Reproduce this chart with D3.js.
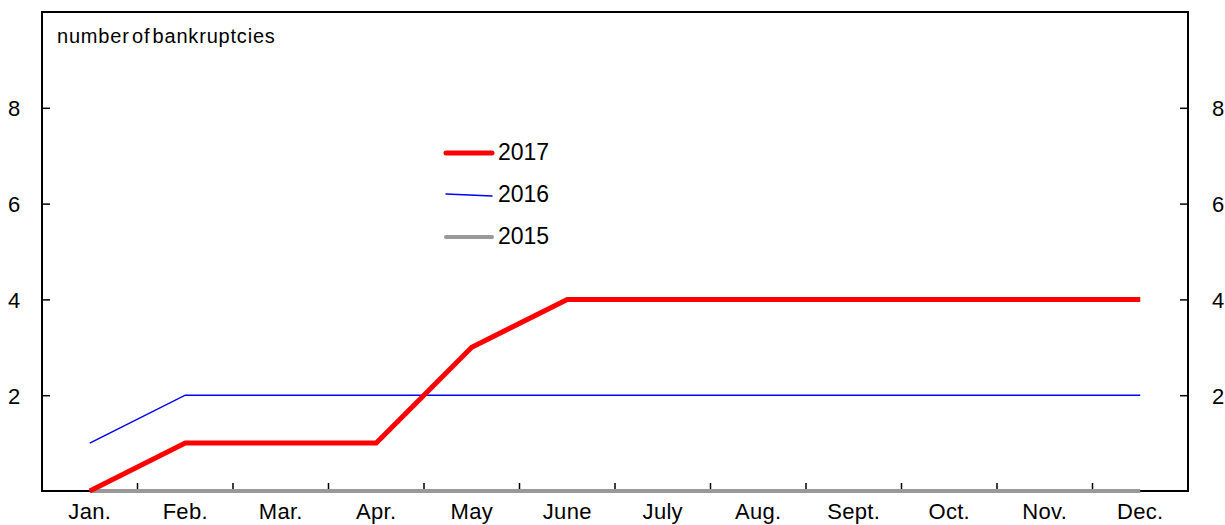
<!DOCTYPE html>
<html lang="en">
<head>
  <meta charset="utf-8">
  <title>Number of bankruptcies</title>
  <style>
  body { margin: 0; background: #fff; }
  text { font-family: Arial, "Liberation Sans", sans-serif; fill: #000; }
  </style>
  <script src="https://cdn.jsdelivr.net/npm/d3@7"></script>
</head>
<body>
  <svg width="1225" height="525"></svg>
  <script>
  var months = ["Jan.", "Feb.", "Mar.", "Apr.", "May", "June", "July", "Aug.", "Sept.", "Oct.", "Nov.", "Dec."];
  var y2017 = [0, 1, 1, 1, 3, 4, 4, 4, 4, 4, 4, 4];
  var y2016 = [1, 2, 2, 2, 2, 2, 2, 2, 2, 2, 2, 2];
  var y2015 = [0, 0, 0, 0, 0, 0, 0, 0, 0, 0, 0, 0];
  var yTicks = [2, 4, 6, 8];

  var series = [
    {name: "2015", values: y2015, color: "#999999", width: 4},
    {name: "2016", values: y2016, color: "#0000ff", width: 1.5},
    {name: "2017", values: y2017, color: "#ff0000", width: 5}
  ];

  var svg = d3.select("svg"),
      margin = {top: 12, right: 37, bottom: 34, left: 42},
      width = +svg.attr("width") - margin.left - margin.right,
      height = +svg.attr("height") - margin.top - margin.bottom,
      g = svg.append("g").attr("transform", "translate(" + margin.left + "," + margin.top + ")");

  var x = d3.scaleBand().domain(months).range([0, width]);
  var y = d3.scaleLinear().domain([0, 10]).range([height, 0]);

  // frame
  g.append("rect")
      .attr("width", width)
      .attr("height", height)
      .attr("fill", "none")
      .attr("stroke", "#000")
      .attr("stroke-width", 2);

  // left / right axes, ticks pointing inward
  var left = g.append("g").call(d3.axisRight(y).tickValues(yTicks).tickSize(8));
  left.select(".domain").remove();
  left.selectAll("line").attr("stroke", "#000").attr("stroke-width", 1.5);
  left.selectAll("text").style("font-size", "22px").attr("text-anchor", "middle").attr("x", -28).attr("dy", "0.36em");

  var right = g.append("g").attr("transform", "translate(" + width + ",0)")
      .call(d3.axisLeft(y).tickValues(yTicks).tickSize(8));
  right.select(".domain").remove();
  right.selectAll("line").attr("stroke", "#000").attr("stroke-width", 1.5);
  right.selectAll("text").style("font-size", "22px").attr("text-anchor", "middle").attr("x", 30).attr("dy", "0.36em");

  // bottom axis: ticks between months, labels centered
  var bottom = g.append("g").attr("transform", "translate(0," + height + ")");
  bottom.selectAll("line")
      .data(months.slice(1))
      .enter().append("line")
        .attr("x1", function(d) { return x(d); })
        .attr("x2", function(d) { return x(d); })
        .attr("y1", 0)
        .attr("y2", -8)
        .attr("stroke", "#000")
        .attr("stroke-width", 1.5);
  bottom.selectAll("text")
      .data(months)
      .enter().append("text")
        .attr("x", function(d) { return x(d) + x.bandwidth() / 2; })
        .attr("y", 28)
        .attr("text-anchor", "middle")
        .style("font-size", "22px")
        .style("letter-spacing", "0.3px")
        .text(function(d) { return d; });

  g.append("text")
      .attr("x", 15)
      .attr("y", 31)
      .style("font-size", "20px")
      .style("letter-spacing", "0.8px")
      .style("word-spacing", "-4px")
      .text("number of bankruptcies");

  var line = d3.line()
      .x(function(d, i) { return x(months[i]) + x.bandwidth() / 2; })
      .y(function(d) { return y(d); });

  g.selectAll(".serie")
      .data(series)
      .enter().append("path")
        .attr("class", "serie")
        .attr("fill", "none")
        .attr("stroke", function(d) { return d.color; })
        .attr("stroke-width", function(d) { return d.width; })
        .attr("d", function(d) { return line(d.values); });

  // legend
  var legend = g.selectAll(".legend")
      .data(series.slice().reverse())
      .enter().append("g")
        .attr("class", "legend")
        .attr("transform", function(d, i) { return "translate(404," + (141 + i * 42) + ")"; });

  legend.append("line")
      .attr("x1", 0)
      .attr("x2", 46)
      .attr("y1", function(d) { return d.name === "2016" ? -1 : 0; })
      .attr("y2", function(d) { return d.name === "2016" ? 1 : 0; })
      .attr("stroke", function(d) { return d.color; })
      .attr("stroke-width", function(d) { return d.width; })
      .attr("stroke-linecap", "round");

  legend.append("text")
      .attr("x", 52)
      .attr("dy", 7)
      .style("font-size", "23px")
      .text(function(d) { return d.name; });
  </script>
</body>
</html>
